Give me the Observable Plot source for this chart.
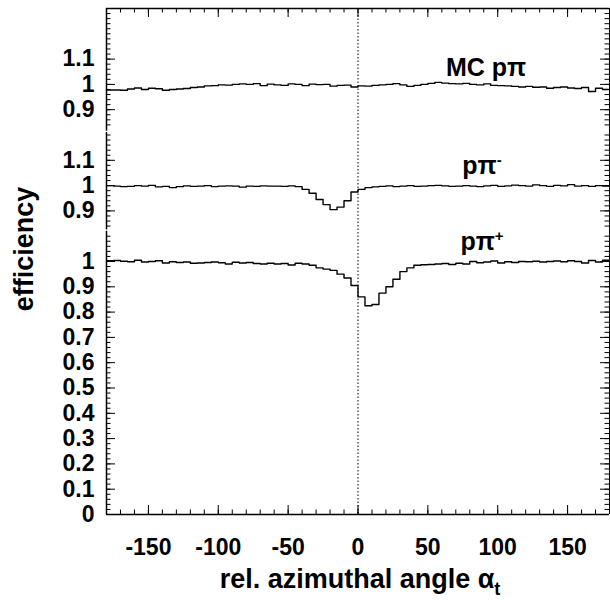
<!DOCTYPE html>
<html>
<head>
<meta charset="utf-8">
<script src="https://cdn.jsdelivr.net/npm/d3@7"></script>
<script src="https://cdn.jsdelivr.net/npm/@observablehq/plot@0.6"></script>
<style>
  body { margin: 0; background: white; }
  svg { font-family: "Liberation Sans", Arial, sans-serif; }
</style>
</head>
<body>
<div id="chart"></div>
<script>
// bin left edges, 5 degree bins from -180 to 180
const binEdges = d3.range(-180, 180, 5);

const mcPiValues = [
  0.978,0.978,0.977,0.982,0.986,0.98,0.985,0.983,0.977,0.98,0.982,0.984,
  0.988,0.99,0.994,0.995,0.998,0.997,1.0,1.002,1.0,1.003,0.995,1.001,
  0.998,0.996,1.002,1.0,0.995,1.001,0.999,1.0,0.993,0.996,0.997,0.99,
  0.994,0.993,0.996,0.998,1.0,1.003,0.998,0.992,0.996,1.0,1.004,1.008,
  1.005,1.003,1.002,1.004,1.0,0.998,1.002,0.996,0.995,0.994,0.992,0.99,
  0.992,0.989,0.99,0.985,0.988,0.99,0.986,0.984,0.988,0.972,0.985,0.98
];
const pPiMinusValues = [
  1.0,0.998,0.996,0.997,1.0,0.998,1.001,0.995,0.997,0.992,0.996,0.999,
  0.997,0.998,1.0,0.996,0.998,0.999,0.998,0.994,0.998,0.997,0.999,0.998,
  0.998,0.997,0.999,0.996,0.985,0.97,0.945,0.925,0.905,0.915,0.94,0.975,
  0.985,0.992,0.995,0.997,0.999,0.996,0.998,1.0,0.997,0.998,1.0,1.001,
  0.999,0.997,0.998,1.0,0.998,0.996,0.999,1.001,0.997,0.999,1.002,1.0,
  0.998,1.003,1.0,0.997,1.001,0.999,1.004,0.998,1.0,0.997,1.0,0.998
];
const pPiPlusValues = [
  1.003,1.004,1.001,0.999,1.005,0.998,1.0,1.003,0.994,0.999,0.996,0.998,
  0.993,0.994,0.996,0.998,0.995,0.99,0.997,0.994,0.996,0.992,0.99,0.993,
  0.99,0.992,0.986,0.993,0.99,0.985,0.975,0.97,0.965,0.95,0.935,0.905,
  0.86,0.825,0.83,0.875,0.9,0.93,0.96,0.975,0.985,0.987,0.988,0.99,
  0.992,0.988,0.993,0.99,1.0,0.995,0.998,1.002,0.994,0.999,0.996,1.0,
  0.999,1.001,0.998,1.0,1.002,0.999,1.003,1.0,0.994,1.004,0.998,1.005
];

// vertical offsets of the three panels
const offsets = { mc: 0.7, minus: 0.3, plus: 0 };
const panelTicks = [0.9, 1, 1.1];
const plusTicks = d3.range(0, 11).map(i => i / 10);
const xTicks = [-150, -100, -50, 0, 50, 100, 150];

function steps(values, off) {
  const pts = binEdges.map((x, i) => ({x, y: values[i] + off}));
  pts.push({x: 180, y: values[values.length - 1] + off});
  return pts;
}

const W = 610, H = 600;
const mL = 106, mR = 1, mT = 8, mB = 86;
const xs = d3.scaleLinear([-180, 180], [mL, W - mR]);
const ys = d3.scaleLinear([0, 2], [H - mB, mT]);
const dx = px => xs.invert(mL + px) + 180;   // px -> x units
const dy = px => ys.invert(H - mB - px);     // px -> y units

// y tick positions (major / minor)
const yMajor = [
  ...plusTicks.map(v => ({v, lab: d3.format("")(v)})),
  ...panelTicks.map(v => ({v: v + offsets.minus, lab: String(v)})),
  ...panelTicks.map(v => ({v: v + offsets.mc, lab: String(v)}))
];
const yMinor = [
  ...d3.range(0, 56).map(i => i * 0.02),
  ...d3.range(0, 19).map(i => 1.14 + i * 0.02),
  ...d3.range(0, 24).map(i => 1.54 + i * 0.02)
];
const xMinor = d3.range(-180, 181, 10);

const segments = [[0, 1.12], [1.125, 1.51], [1.515, 2]];

const bold = {fontSize: 23, fontWeight: "bold", fill: "black"};

const chart = Plot.plot({
  width: W, height: H,
  marginLeft: mL, marginRight: mR, marginTop: mT, marginBottom: mB,
  x: {domain: [-180, 180], axis: null},
  y: {domain: [0, 2], axis: null},
  marks: [
    // frame
    Plot.ruleY([0, 2], {stroke: "black", strokeWidth: 1.5}),
    Plot.ruleX([180], {stroke: "black", strokeWidth: 1}),
    Plot.ruleX(segments, {x: () => -180, y1: d => d[0], y2: d => d[1], stroke: "black", strokeWidth: 1.5}),
    Plot.ruleX([0], {stroke: "black", strokeDasharray: "1.5,2", strokeWidth: 1}),
    // x ticks
    Plot.ruleX(xTicks, {y1: 0, y2: dy(9), stroke: "black"}),
    Plot.ruleX(xMinor, {y1: 0, y2: dy(4.5), stroke: "black"}),
    Plot.ruleX(xTicks, {y1: 2, y2: 2 - dy(9), stroke: "black"}),
    Plot.ruleX(xMinor, {y1: 2, y2: 2 - dy(4.5), stroke: "black"}),
    // y ticks left and right
    Plot.ruleY(yMajor, {y: "v", x1: -180, x2: -180 + dx(9), stroke: "black"}),
    Plot.ruleY(yMinor, {x1: -180, x2: -180 + dx(4.5), stroke: "black"}),
    Plot.ruleY(yMajor, {y: "v", x1: 180, x2: 180 - dx(9), stroke: "black"}),
    Plot.ruleY(yMinor, {x1: 180, x2: 180 - dx(4.5), stroke: "black"}),
    // tick labels
    Plot.text(yMajor, {x: -180, y: "v", text: "lab", dx: -12, textAnchor: "end", ...bold}),
    Plot.text(xTicks, {x: d => d, y: 0, text: d => String(d), dy: 33, ...bold}),
    // histograms
    Plot.line(steps(mcPiValues, offsets.mc), {x: "x", y: "y", curve: "step-after", stroke: "black", strokeWidth: 1.4}),
    Plot.line(steps(pPiMinusValues, offsets.minus), {x: "x", y: "y", curve: "step-after", stroke: "black", strokeWidth: 1.4}),
    Plot.line(steps(pPiPlusValues, offsets.plus), {x: "x", y: "y", curve: "step-after", stroke: "black", strokeWidth: 1.4})
  ]
});

const svg = d3.select(chart);
const add = (x, y, html, opts = {}) => {
  const t = svg.append("text").attr("x", x).attr("y", y)
    .attr("font-size", opts.size || 20).attr("font-weight", "bold")
    .attr("text-anchor", opts.anchor || "middle")
    .attr("font-family", "Liberation Sans, Arial, sans-serif");
  if (opts.rotate) t.attr("transform", `rotate(-90,${x},${y})`);
  t.html(html);
};
// series labels
add(486, 76, "MC p&#960;", {size: 25});
add(482, 174, "p&#960;<tspan dy='-9' font-size='15'>-</tspan>", {size: 25});
add(482, 250, "p&#960;<tspan dy='-9' font-size='15'>+</tspan>", {size: 25});
// axis titles
add(33, 249, "efficiency", {rotate: true, size: 27});
add(360, 588, "rel. azimuthal angle &#945;<tspan dy='7' font-size='18'>t</tspan>", {size: 27});

document.getElementById("chart").appendChild(chart);
</script>
</body>
</html>
